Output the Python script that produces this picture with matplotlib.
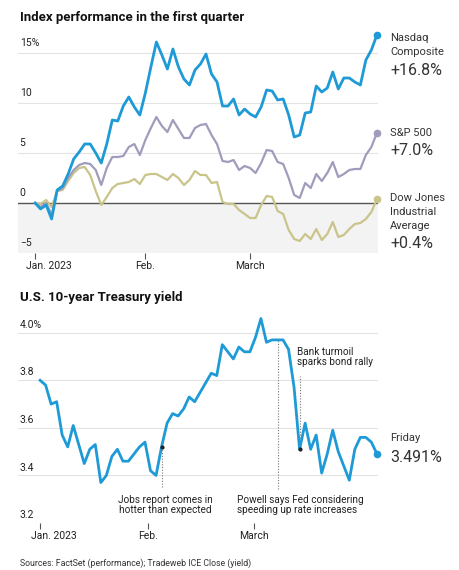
import numpy as np
import matplotlib
matplotlib.use("Agg")
import matplotlib.pyplot as plt
import matplotlib.transforms as mtransforms

plt.rcParams['font.family'] = ['Roboto', 'DejaVu Sans']

# index performance, % change since Dec 30 2022 (one value per trading day)
nasdaq = [0, -0.6, -0.2, -1.6, 1.3, 1.7, 2.9, 4.4, 5.1, 5.9, 5.9, 5.0, 4.0, 5.9, 8.3, 8.2,
          9.7, 10.6, 9.6, 8.8, 11.0, 13.6, 16.1, 14.8, 13.4, 15.4, 13.6, 12.4, 11.8, 13.3,
          13.9, 14.9, 12.9, 12.1, 9.7, 9.7, 10.4, 8.8, 9.4, 8.9, 8.6, 9.6, 11.3, 11.2, 10.3,
          10.4, 8.8, 6.6, 6.8, 9.0, 9.1, 11.7, 11.1, 11.5, 13.1, 11.4, 12.5, 12.5, 12.1,
          11.8, 14.3, 15.3, 16.8]
sp500 = [0, -0.4, 0, -1.2, 1.2, 1.5, 2.5, 3.3, 3.8, 4.0, 3.9, 3.3, 1.8, 3.5, 4.6, 4.6,
         4.7, 5.6, 5.9, 4.8, 6.3, 7.5, 8.6, 7.7, 7.1, 8.3, 7.4, 6.5, 6.5, 7.5, 7.8, 7.9,
         6.8, 5.9, 4.2, 4.1, 4.3, 3.3, 3.7, 3.5, 3.0, 4.0, 5.3, 5.2, 4.1, 3.9, 2.5, 0.8,
         0.5, 2.0, 1.5, 2.9, 2.2, 3.0, 4.1, 2.6, 2.9, 3.3, 3.4, 3.4, 4.8, 5.6, 7.0]
dow = [0, -0.1, 0.3, -0.4, 1.2, 1.3, 2.2, 3.0, 3.5, 3.6, 2.8, 1.2, -0.2, 0.6, 1.5, 1.9,
       2.0, 2.1, 2.4, 1.9, 2.8, 2.9, 2.9, 2.6, 2.3, 2.9, 2.5, 1.8, 2.3, 3.2, 2.8, 2.8,
       2.0, 2.1, 0.1, -0.1, -0.1, -0.7, -1.1, -1.5, -1.5, -0.2, 0.7, 0.6, -0.8, -1.1,
       -2.7, -3.6, -3.8, -3.1, -3.6, -2.6, -3.7, -3.1, -1.9, -3.4, -3.2, -2.6, -2.1,
       -2.0, -1.6, -0.9, 0.4]

# 10-year Treasury yield, %, Jan 3 - Mar 31 2023
yield10 = [3.80, 3.78, 3.70, 3.71, 3.57, 3.52, 3.61, 3.53, 3.45, 3.51, 3.53, 3.37, 3.40,
           3.48, 3.51, 3.46, 3.46, 3.49, 3.52, 3.54, 3.42, 3.40, 3.52, 3.62, 3.66, 3.65,
           3.68, 3.73, 3.71, 3.75, 3.79, 3.83, 3.82, 3.95, 3.92, 3.89, 3.94, 3.92, 3.92,
           3.98, 4.06, 3.96, 3.97, 3.97, 3.97, 3.93, 3.77, 3.51, 3.62, 3.51, 3.57, 3.41,
           3.49, 3.59, 3.50, 3.44, 3.38, 3.51, 3.56, 3.56, 3.54, 3.491]

month_labels = ['Jan. 2023', 'Feb.', 'March']
top_month_ticks = [0, 20, 39]
bot_month_ticks = [0, 19.5, 38.7]
jobs_day, powell_day, bank_day = 22, 43, 47

BLUE = '#1e9ad6'
PURPLE = '#a09cbc'
KHAKI = '#c9c48a'
GRID = '#e3e3e3'
TXT = '#222222'

fig = plt.figure(figsize=(4.6, 5.7), dpi=100)
W, H = 460, 570


def axes_px(left, top, right, bottom):
    return fig.add_axes([left / W, 1 - bottom / H, (right - left) / W, (bottom - top) / H])


def style(ax):
    for s in ax.spines.values():
        s.set_visible(False)
    ax.tick_params(axis='y', length=0, labelleft=False)
    ax.tick_params(axis='x', length=4, width=0.8, color='#555555', pad=2,
                   labelsize=7.5, labelcolor=TXT)


# ---------------- top chart ----------------
fig.text(20 / W, 1 - 18 / H, 'Index performance in the first quarter', fontsize=9.5,
         fontweight='bold', color='#111111', va='center', ha='left')

ax1 = axes_px(18, 33, 378, 253)
x1 = np.arange(len(nasdaq))
ax1.set_xlim(-3.1, 62.2)
ax1.set_ylim(-5, 17)
style(ax1)
ax1.axhspan(-5, 0, color='#f3f3f3', zorder=0, lw=0)
for v in [5, 10, 15]:
    ax1.axhline(v, color=GRID, lw=0.8, zorder=1)
ax1.axhline(0, color='#555555', lw=1.0, zorder=2)
for v, lab in zip([15, 10, 5, 0, -5], ['15%', '10', '5', '0', '\u22125']):
    ax1.text(-2.8, v + 0.5, lab, fontsize=7.5, color=TXT, ha='left', va='bottom')

ax1.plot(x1, dow, color=KHAKI, lw=1.6, zorder=3, solid_joinstyle='round')
ax1.plot(x1, sp500, color=PURPLE, lw=1.6, zorder=4, solid_joinstyle='round')
ax1.plot(x1, nasdaq, color=BLUE, lw=2.0, zorder=5, solid_joinstyle='round')
for ser, c in [(dow, KHAKI), (sp500, PURPLE), (nasdaq, BLUE)]:
    ax1.plot(x1[-1], ser[-1], 'o', color=c, ms=4.5, zorder=6, clip_on=False)

ax1.set_xticks(top_month_ticks)
ax1.set_xticklabels(month_labels)
off = mtransforms.ScaledTranslation(-9 / 100, 0, fig.dpi_scale_trans)
lab0 = ax1.get_xticklabels()[0]
lab0.set_ha('left')
lab0.set_transform(lab0.get_transform() + off)

# series labels on the right
lx = 390 / W
for y, s in [(38, 'Nasdaq'), (52, 'Composite')]:
    fig.text(lx, 1 - y / H, s, fontsize=8, color='#333333', va='center')
fig.text(lx, 1 - 71 / H, '+16.8%', fontsize=11.5, color='#333333', va='center')
fig.text(lx, 1 - 133 / H, 'S&P 500', fontsize=8, color='#333333', va='center')
fig.text(lx, 1 - 151 / H, '+7.0%', fontsize=11.5, color='#333333', va='center')
for y, s in [(198, 'Dow Jones'), (212, 'Industrial'), (226, 'Average')]:
    fig.text(lx, 1 - y / H, s, fontsize=8, color='#333333', va='center')
fig.text(lx, 1 - 244 / H, '+0.4%', fontsize=11.5, color='#333333', va='center')

# ---------------- bottom chart ----------------
fig.text(20 / W, 1 - 298 / H, 'U.S. 10-year Treasury yield', fontsize=9.5,
         fontweight='bold', color='#111111', va='center', ha='left')

ax2 = axes_px(18, 309, 378, 523)
x2 = np.arange(len(yield10))
ax2.set_xlim(-4.0, 61.2)
ax2.set_ylim(3.2, 4.1)
style(ax2)
for v in [3.2, 3.4, 3.6, 3.8, 4.0]:
    ax2.axhline(v, color=GRID, lw=0.8, zorder=1)
for v, lab in zip([4.0, 3.8, 3.6, 3.4, 3.2], ['4.0%', '3.8', '3.6', '3.4', '3.2']):
    ax2.text(-3.7, v + 0.012, lab, fontsize=7.5, color=TXT, ha='left', va='bottom')

# annotation guides
ax2.plot([jobs_day, jobs_day], [3.35, yield10[jobs_day]], ls=(0, (1, 1.5)),
         color='#777777', lw=0.8, zorder=2)
ax2.plot([powell_day, powell_day], [3.345, yield10[powell_day]], ls=(0, (1, 1.5)),
         color='#777777', lw=0.8, zorder=2)
ax2.plot([bank_day, bank_day], [yield10[bank_day], 3.82], ls=(0, (1, 1.5)),
         color='#777777', lw=0.8, zorder=2)

ax2.plot(x2, yield10, color=BLUE, lw=2.0, zorder=5, solid_joinstyle='round')
ax2.plot(x2[-1], yield10[-1], 'o', color=BLUE, ms=4.5, zorder=6, clip_on=False)
ax2.plot([jobs_day, bank_day], [yield10[jobs_day], yield10[bank_day]], 'o',
         color='#222222', ms=2, zorder=6, ls='none')

ax2.set_xticks(bot_month_ticks)
ax2.set_xticklabels(month_labels)
lab0 = ax2.get_xticklabels()[0]
lab0.set_ha('left')
lab0.set_transform(lab0.get_transform() + off)

fig.text(165 / W, 1 - 505 / H, 'Jobs report comes in\nhotter than expected', fontsize=7.2,
         color=TXT, ha='center', va='center', linespacing=1.05)
fig.text(237 / W, 1 - 505 / H, 'Powell says Fed considering\nspeeding up rate increases',
         fontsize=7.2, color=TXT, ha='left', va='center', linespacing=1.05)
fig.text(297 / W, 1 - 357 / H, 'Bank turmoil\nsparks bond rally', fontsize=7.2,
         color=TXT, ha='left', va='center', linespacing=1.05)

fig.text(lx, 1 - 438 / H, 'Friday', fontsize=8, color='#333333', va='center')
fig.text(lx, 1 - 457 / H, '3.491%', fontsize=11.5, color='#333333', va='center')

fig.text(20 / W, 1 - 563 / H, 'Sources: FactSet (performance); Tradeweb ICE Close (yield)',
         fontsize=6.3, color='#333333', va='center', ha='left')

fig.savefig('out.png', dpi=100, facecolor='white')
